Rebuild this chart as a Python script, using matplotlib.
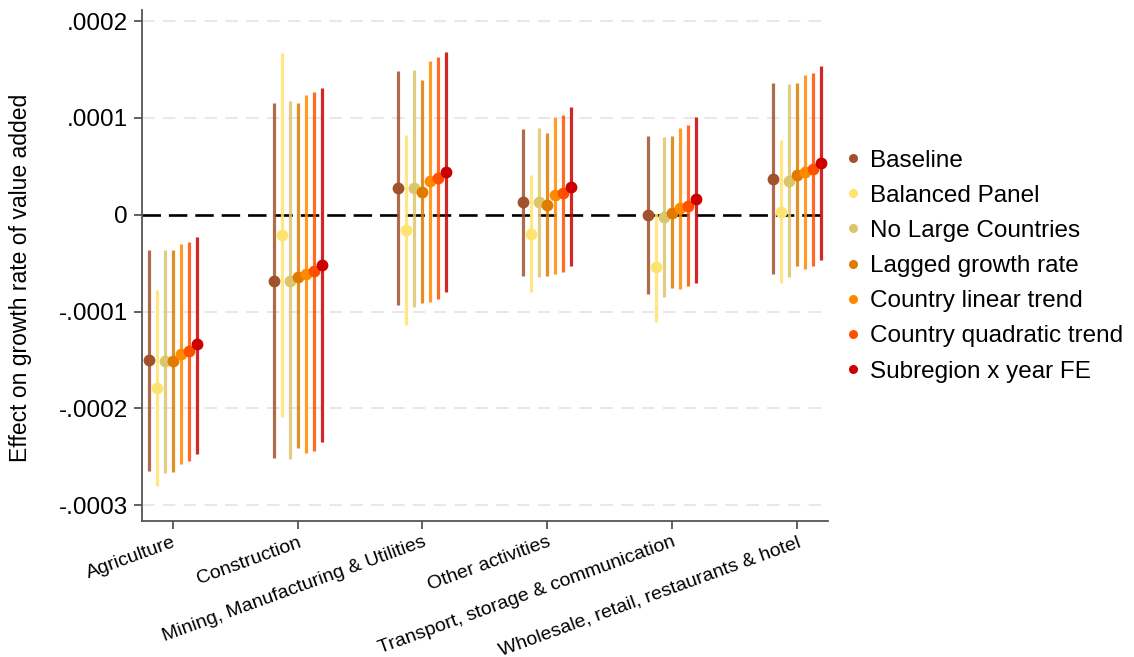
import numpy as np
import matplotlib
matplotlib.use("Agg")
import matplotlib.pyplot as plt
from matplotlib.lines import Line2D

plt.rcParams['font.family'] = ['Liberation Sans', 'DejaVu Sans']

sectors = ["Agriculture", "Construction", "Mining, Manufacturing & Utilities",
           "Other activities", "Transport, storage & communication",
           "Wholesale, retail, restaurants & hotel"]

series = ["Baseline", "Balanced Panel", "No Large Countries", "Lagged growth rate",
          "Country linear trend", "Country quadratic trend", "Subregion x year FE"]
colors = ["#a0522d", "#ffe370", "#dcc66c", "#e07b00", "#ff8a00", "#ff5000", "#cc0000"]

# point estimates and 95% CI bounds, in units of 1e-4
baseline = [-1.50, -0.68, 0.28, 0.13, 0.00, 0.37]
baseline_lo = [-2.65, -2.51, -0.93, -0.63, -0.82, -0.61]
baseline_hi = [-0.36, 1.15, 1.49, 0.89, 0.81, 1.36]

balanced = [-1.79, -0.21, -0.16, -0.20, -0.54, 0.03]
balanced_lo = [-2.80, -2.09, -1.14, -0.80, -1.11, -0.71]
balanced_hi = [-0.78, 1.67, 0.82, 0.41, 0.02, 0.77]

no_large = [-1.51, -0.68, 0.28, 0.13, -0.02, 0.35]
no_large_lo = [-2.67, -2.52, -0.95, -0.64, -0.85, -0.64]
no_large_hi = [-0.36, 1.17, 1.50, 0.90, 0.80, 1.35]

lagged = [-1.51, -0.64, 0.24, 0.10, 0.02, 0.41]
lagged_lo = [-2.66, -2.41, -0.91, -0.63, -0.76, -0.53]
lagged_hi = [-0.36, 1.15, 1.39, 0.84, 0.81, 1.36]

linear = [-1.44, -0.61, 0.35, 0.20, 0.07, 0.44]
linear_lo = [-2.57, -2.46, -0.90, -0.61, -0.77, -0.56]
linear_hi = [-0.30, 1.24, 1.59, 1.01, 0.90, 1.44]

quadratic = [-1.41, -0.58, 0.38, 0.22, 0.09, 0.47]
quadratic_lo = [-2.54, -2.44, -0.87, -0.59, -0.74, -0.53]
quadratic_hi = [-0.28, 1.27, 1.63, 1.03, 0.93, 1.46]

subregion = [-1.34, -0.52, 0.44, 0.29, 0.16, 0.53]
subregion_lo = [-2.47, -2.35, -0.80, -0.53, -0.70, -0.47]
subregion_hi = [-0.23, 1.31, 1.68, 1.11, 1.01, 1.54]

points = [baseline, balanced, no_large, lagged, linear, quadratic, subregion]
lows = [baseline_lo, balanced_lo, no_large_lo, lagged_lo, linear_lo, quadratic_lo, subregion_lo]
highs = [baseline_hi, balanced_hi, no_large_hi, lagged_hi, linear_hi, quadratic_hi, subregion_hi]

yticks = [2e-4, 1e-4, 0, -1e-4, -2e-4, -3e-4]
ytick_labels = [".0002", ".0001", "0", "-.0001", "-.0002", "-.0003"]

scale = 1e-4
fig = plt.figure(figsize=(11.34, 6.57), dpi=100)
ax = fig.add_axes([0.125, 0.2075, 0.605, 0.778])

x = np.arange(1, len(sectors) + 1)
step = 0.064
for i in range(len(series)):
    xs = x + (i - 3) * step
    pt = np.array(points[i]) * scale
    lo = np.array(lows[i]) * scale
    hi = np.array(highs[i]) * scale
    ax.vlines(xs, lo, hi, color=colors[i], lw=2.3, alpha=0.85, zorder=3)
    ax.plot(xs, pt, 'o', color=colors[i], ms=8.5, mec='none', zorder=4)

for yt in yticks:
    if yt != 0:
        ax.axhline(yt, color="#e8e8e8", lw=1.5, dashes=(6, 4), zorder=1)
ax.axhline(0, color="black", lw=1.9, dashes=(7, 3), zorder=2)

ax.set_xlim(0.752, 6.246)
ax.set_ylim(-3.16e-4, 2.12e-4)
ax.set_yticks(yticks)
ax.set_yticklabels(ytick_labels, fontsize=17.5)
ax.set_xticks(x)
ax.set_xticklabels(sectors, fontsize=14, rotation=20, ha='right', rotation_mode='anchor')
ax.tick_params(axis='both', length=6, width=1.3, color="#555555", direction='out')
ax.tick_params(axis='y', pad=4)
ax.set_ylabel("Effect on growth rate of value added", fontsize=16.5)
ax.yaxis.set_label_coords(-0.16, 0.475)

for side in ['top', 'right']:
    ax.spines[side].set_visible(False)
for side in ['left', 'bottom']:
    ax.spines[side].set_color("#555555")
    ax.spines[side].set_linewidth(1.3)

handles = [Line2D([], [], marker='o', ls='none', color=c, ms=6.5, mec='none') for c in colors]
fig.legend(handles, series, loc='upper left', bbox_to_anchor=(0.733, 0.787),
           frameon=False, fontsize=17.5, handletextpad=0.2, labelspacing=0.54,
           handlelength=1.0, borderaxespad=0)

fig.savefig("out.png", dpi=100)
